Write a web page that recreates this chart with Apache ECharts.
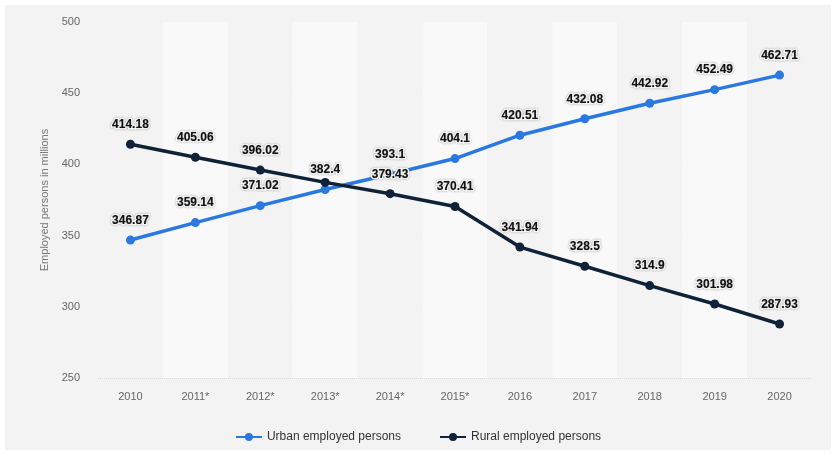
<!DOCTYPE html>
<html>
<head>
<meta charset="utf-8">
<script src="https://cdn.jsdelivr.net/npm/echarts@6/dist/echarts.min.js"></script>
<style>
  html, body { margin: 0; padding: 0; background: #ffffff; }
  #chart { width: 836px; height: 454px; }
</style>
</head>
<body>
<div id="chart"></div>
<script>
// Employed persons in China, urban vs. rural (millions)
const years = ['2010', '2011*', '2012*', '2013*', '2014*', '2015*', '2016', '2017', '2018', '2019', '2020'];
const urbanEmployed = [346.87, 359.14, 371.02, 382.4, 393.1, 404.1, 420.51, 432.08, 442.92, 452.49, 462.71];
const ruralEmployed = [414.18, 405.06, 396.02, 387.37, 379.43, 370.41, 341.94, 328.5, 314.9, 301.98, 287.93];
const ruralHiddenLabels = [3]; // label suppressed where it collides with the urban label
const yTicks = { min: 250, max: 500, interval: 50 };

const labelStyle = {
  show: true,
  position: 'top',
  distance: 9,
  fontFamily: 'Liberation Sans, Arial, sans-serif',
  fontSize: 12,
  fontWeight: 'bold',
  color: '#111',
  textBorderColor: '#ffffff',
  textBorderWidth: 3,
  textShadowColor: 'rgba(0,0,0,0.45)',
  textShadowBlur: 1.5
};

const chart = echarts.init(document.getElementById('chart'));
chart.setOption({
  backgroundColor: '#ffffff',
  animation: false,
  graphic: [{
    type: 'rect',
    z: -10,
    shape: { x: 5, y: 5, width: 826, height: 445 },
    style: { fill: '#f3f3f3' }
  }],
  grid: { left: 98, right: 24, top: 22, bottom: 76 },
  legend: {
    bottom: 6,
    left: 'center',
    itemWidth: 26,
    itemHeight: 10,
    itemGap: 38,
    textStyle: { fontFamily: 'Liberation Sans, Arial, sans-serif', fontSize: 12, color: '#333' },
    data: ['Urban employed persons', 'Rural employed persons']
  },
  xAxis: {
    type: 'category',
    data: years,
    boundaryGap: true,
    axisLine: { show: false },
    axisTick: { show: false },
    axisLabel: { margin: 13, fontFamily: 'Liberation Sans, Arial, sans-serif', fontSize: 11, color: '#666' },
    splitArea: { show: true, areaStyle: { color: ['#f3f3f3', '#f9f9f9'] } }
  },
  yAxis: {
    type: 'value',
    min: yTicks.min,
    max: yTicks.max,
    interval: yTicks.interval,
    name: 'Employed persons in millions',
    nameLocation: 'middle',
    nameGap: 47,
    nameTextStyle: { fontFamily: 'Liberation Sans, Arial, sans-serif', fontSize: 11, color: '#777' },
    axisLine: { show: false },
    axisTick: { show: false },
    axisLabel: { margin: 18, fontFamily: 'Liberation Sans, Arial, sans-serif', fontSize: 11, color: '#666' },
    splitLine: { lineStyle: { color: '#d8d8d8', type: 'dotted', width: 1 } }
  },
  series: [
    {
      name: 'Urban employed persons',
      type: 'line',
      data: urbanEmployed,
      symbol: 'circle',
      symbolSize: 9,
      color: '#2a78e0',
      lineStyle: { width: 3.5, color: '#2a78e0' },
      itemStyle: { color: '#2a78e0' },
      label: labelStyle,
      z: 3
    },
    {
      name: 'Rural employed persons',
      type: 'line',
      data: ruralEmployed.map((v, i) =>
        ruralHiddenLabels.includes(i) ? { value: v, label: { show: false } } : v),
      symbol: 'circle',
      symbolSize: 9,
      color: '#0f2237',
      lineStyle: { width: 3.5, color: '#0f2237' },
      itemStyle: { color: '#0f2237' },
      label: labelStyle,
      z: 4
    }
  ]
});
</script>
</body>
</html>
